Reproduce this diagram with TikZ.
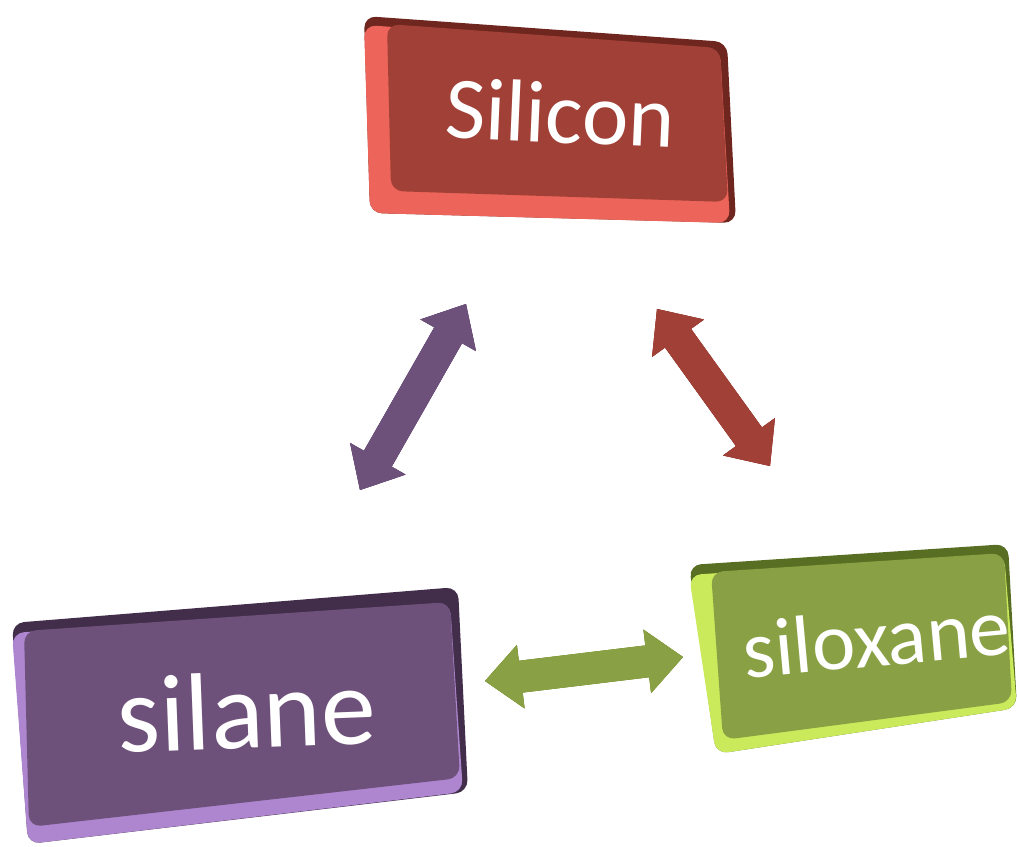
\documentclass[tikz,border=0pt]{standalone}
\usepackage{fontspec}
\setmainfont{Carlito}
\usetikzlibrary{calc}
\definecolor{redF}{RGB}{160,64,54}
\definecolor{redL}{RGB}{236,100,90}
\definecolor{redD}{RGB}{110,38,30}
\definecolor{purF}{RGB}{110,81,122}
\definecolor{purL}{RGB}{174,134,208}
\definecolor{purD}{RGB}{66,46,74}
\definecolor{grnF}{RGB}{138,160,68}
\definecolor{grnL}{RGB}{202,234,92}
\definecolor{grnD}{RGB}{88,110,34}
\definecolor{shd}{RGB}{228,228,228}
% arrow geometry: head length, head half width, shaft half width
\newcommand\AHl{36}
\newcommand\AHw{32}
\newcommand\ASw{16}
\newcommand\ArrMeasure[2]{%
  \path let \p1=($(#2)-(#1)$) in \pgfextra{%
    \pgfmathsetmacro\arrang{atan2(\y1,\x1)}%
    \pgfmathsetmacro\arrlen{veclen(\x1,\y1)}%
    \global\let\Arrang\arrang \global\let\Arrlen\arrlen};}
\newcommand\ArrShape[2]{%
  \begin{scope}[shift={(#1)}, rotate=\Arrang]
    \fill[#2] (0,0) -- (\AHl,\AHw) -- (\AHl,\ASw) -- ({\Arrlen-\AHl},\ASw) -- ({\Arrlen-\AHl},\AHw)
      -- (\Arrlen,0) -- ({\Arrlen-\AHl},-\AHw) -- ({\Arrlen-\AHl},-\ASw) -- (\AHl,-\ASw) -- (\AHl,-\AHw) -- cycle;
  \end{scope}}
\newcommand\DArrow[5]{% from, to, face, light, dark
  \ArrMeasure{#1}{#2}%
  \begin{scope}[shift={(8,10)}]\ArrShape{#1}{shd}\end{scope}
  \begin{scope}[shift={(-4,5)}]\ArrShape{#1}{#4}\end{scope}
  \begin{scope}[shift={(3,-3)}]\ArrShape{#1}{#5}\end{scope}
  \ArrShape{#1}{#3}}
% slab: dark outer, light left/bottom bands, face
\newcommand\Slab[6]{% #1 outer path, #2 light path, #3 face path, #4 light, #5 dark, #6 face colour
  \fill[slab, #5] #1;
  \fill[slab, #4] #2;
  \fill[slab, #6] #3;}
\begin{document}
\begin{tikzpicture}[x=1pt,y=-1pt,
  lbl/.style={text=white, inner sep=0pt, anchor=base},
  slab/.style={rounded corners=12pt}]
\useasboundingbox (0,0) rectangle (1017,846);

% ---------- Silicon box ----------
\Slab{(364,16) -- (727,42) -- (736,223) -- (370,213) -- cycle}
     {(364,25) -- (720,49) -- (730,223) -- (370,213) -- cycle}
     {(387,24) -- (720,48) -- (728,202) -- (391,191) -- cycle}{redL}{redD}{redF}
\node[lbl, rotate=-2.5] (silicon) at (559,143) {\fontsize{88}{88}\selectfont Silicon};

% ---------- silane box ----------
\Slab{(12,623) -- (458,587) -- (468,792) -- (28,844) -- cycle}
     {(12,633) -- (450,603) -- (463,792) -- (28,844) -- cycle}
     {(24,631) -- (450,602) -- (460,778) -- (29,827) -- cycle}{purL}{purD}{purF}
\node[lbl, rotate=2.2] (silane) at (248,748) {\fontsize{110}{110}\selectfont silane};

% ---------- siloxane box ----------
\Slab{(689,565) -- (1008,544) -- (1017,708) -- (716,754) -- cycle}
     {(689,575) -- (1004,554) -- (1017,708) -- (716,754) -- cycle}
     {(711,572) -- (1004,553) -- (1012,702) -- (723,740) -- cycle}{grnL}{grnD}{grnF}
\node[lbl, rotate=5.2] (siloxane) at (879,666) {\fontsize{82}{82}\selectfont siloxane};

% ---------- arrows ----------
\coordinate (pu1) at (360,490);
\coordinate (pu2) at (466,304);
\coordinate (re1) at (657,309);
\coordinate (re2) at (770,466);
\coordinate (gr1) at (485,681);
\coordinate (gr2) at (683,657);
\DArrow{pu1}{pu2}{purF}{purL}{purD}
\DArrow{re1}{re2}{redF}{redL}{redD}
\DArrow{gr1}{gr2}{grnF}{grnL}{grnD}
\end{tikzpicture}
\end{document}
